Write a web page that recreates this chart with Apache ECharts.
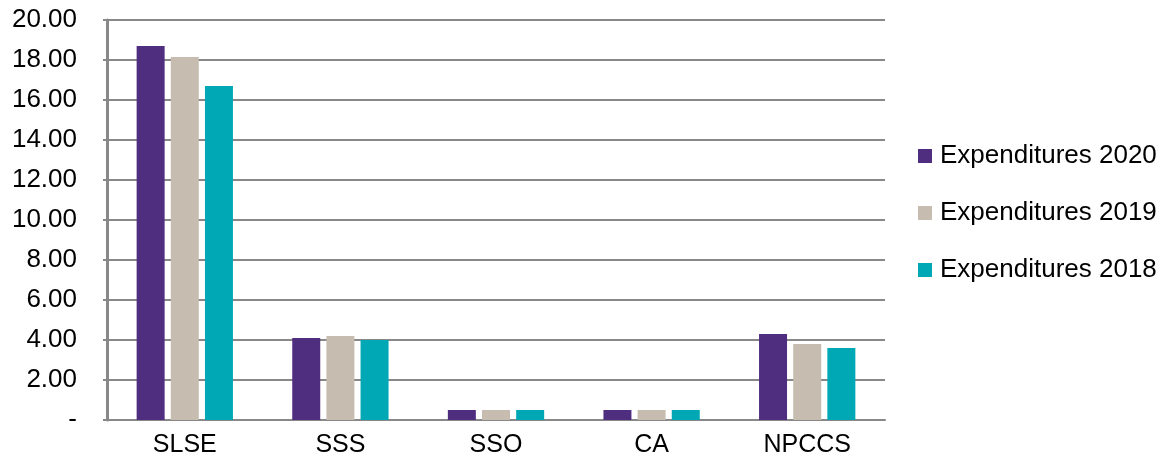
<!DOCTYPE html>
<html>
<head>
<meta charset="utf-8">
<script src="https://cdn.jsdelivr.net/npm/echarts@6/dist/echarts.min.js"></script>
<style>html,body{margin:0;padding:0;background:#fff;}#c{width:1167px;height:463px;}</style>
</head>
<body>
<div id="c"></div>
<script>
const categories = ['SLSE', 'SSS', 'SSO', 'CA', 'NPCCS'];
const exp2020 = [18.7, 4.1, 0.5, 0.5, 4.3];
const exp2019 = [18.15, 4.2, 0.5, 0.5, 3.8];
const exp2018 = [16.7, 4.0, 0.5, 0.5, 3.6];
const seriesNames = ['Expenditures 2020', 'Expenditures 2019', 'Expenditures 2018'];
const colors = ['#4F2D7F', '#C6BDB0', '#00A8B5'];
const yMin = 0, yMax = 20, yStep = 2;

const font = 'Liberation Sans, Arial, sans-serif';
const chart = echarts.init(document.getElementById('c'), null, {renderer: 'canvas'});
const data = [exp2020, exp2019, exp2018];
chart.setOption({
  animation: false,
  backgroundColor: '#fff',
  grid: {left: 107, right: 282, top: 20, bottom: 43, containLabel: false},
  legend: {
    orient: 'vertical',
    left: 918,
    top: 142,
    padding: 0,
    icon: 'rect',
    itemWidth: 14,
    itemHeight: 14,
    itemGap: 29,
    textStyle: {fontFamily: font, fontSize: 26, color: '#000', lineHeight: 28, padding: [0, 0, 0, 3]},
    data: seriesNames
  },
  xAxis: {
    type: 'category',
    data: categories,
    axisLine: {show: true, lineStyle: {color: '#888', width: 2}},
    axisTick: {show: false},
    axisLabel: {fontFamily: font, fontSize: 25, color: '#000', margin: 13}
  },
  yAxis: {
    type: 'value',
    min: yMin, max: yMax, interval: yStep,
    axisLine: {show: true, lineStyle: {color: '#888', width: 3}},
    axisTick: {show: true, length: 4, lineStyle: {color: '#888', width: 2}},
    splitLine: {show: true, lineStyle: {color: '#888', width: 2}},
    axisLabel: {
      fontFamily: font, fontSize: 26, color: '#000', margin: 30,
      formatter: v => v === 0 ? '-' : v.toFixed(2)
    }
  },
  series: seriesNames.map((n, i) => ({
    name: n,
    type: 'bar',
    data: data[i],
    barWidth: 28,
    barGap: '22%',
    itemStyle: {color: colors[i]}
  }))
});
</script>
</body>
</html>
